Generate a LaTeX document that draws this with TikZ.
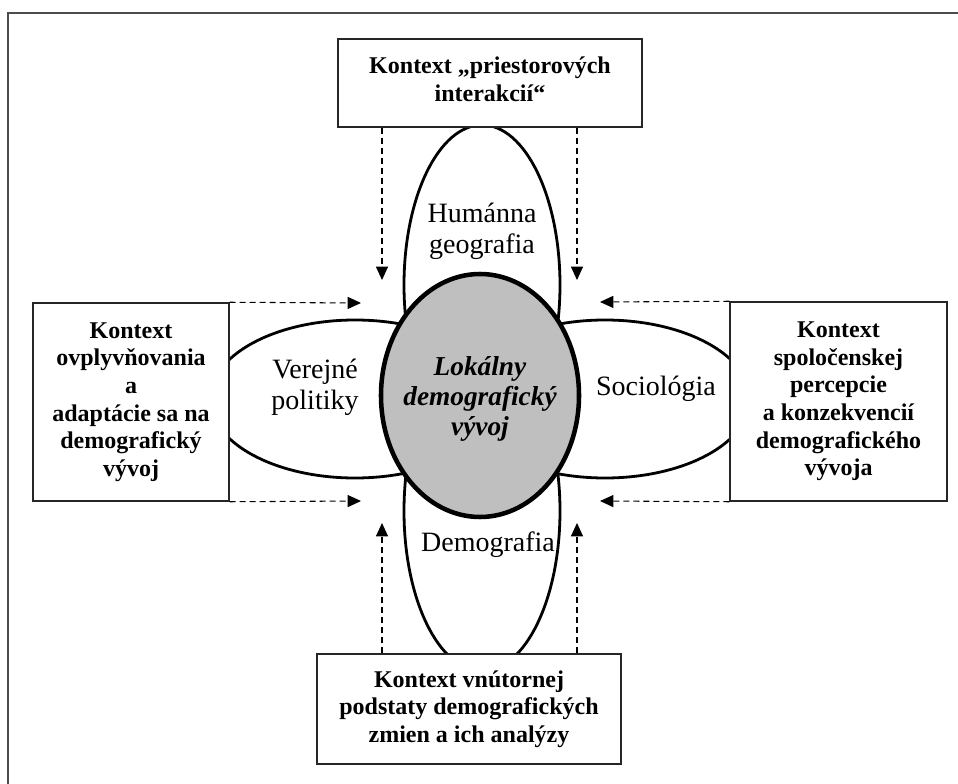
\documentclass[tikz,border=0pt]{standalone}
\usepackage{fontspec}
\setmainfont{Liberation Serif}
\usetikzlibrary{arrows.meta,shapes.geometric}
\begin{document}
\begin{tikzpicture}[x=0.75pt,y=-0.75pt,
  frameline/.style={draw=black!70,line width=1.7pt},
  petal/.style={draw=black,fill=white,line width=2.1pt},
  core/.style={draw=black,fill=black!25,line width=3.4pt},
  ctxbox/.style={draw=black!85,fill=white,line width=1.1pt,rectangle,inner sep=2pt,
    align=center,font=\fontsize{18}{20.7}\selectfont\bfseries},
  petaltext/.style={align=center,inner sep=0pt,font=\fontsize{21}{23.5}\selectfont},
  coretext/.style={align=center,inner sep=0pt,font=\fontsize{20.5}{22.5}\selectfont\bfseries\itshape},
  flow/.style={draw=black,line width=0.8pt,dash pattern=on 4.5pt off 3pt,
    -{Triangle[length=10pt,width=9pt]}}
]
\useasboundingbox (0,0) rectangle (958,784);
% outer frame (cropped)
\draw[frameline] (8,784) -- (8,13) -- (958,13);

% petals
\draw[petal] (482,511) ellipse [x radius=58.5pt, y radius=120pt];
\draw[petal] (355,399) ellipse [x radius=108.75pt, y radius=59.25pt];
\draw[petal] (605,399) ellipse [x radius=108.75pt, y radius=59.25pt];
\draw[petal] (482,285) ellipse [x radius=58.5pt, y radius=120pt];

% core
\node[core,ellipse,minimum width=148.5pt,minimum height=182.25pt,inner sep=0pt] (core) at (480,395.5) {};
\node[coretext] (coretxt) at (480,399) {Lokálny\\demografický\\vývoj};

% context boxes
\node[ctxbox,minimum width=228pt,minimum height=66pt] (topbox) at (490,83)
  {Kontext „priestorových\\interakcií“\rule[-6pt]{0pt}{1pt}};
\node[ctxbox,minimum width=147pt,minimum height=148.5pt] (leftbox) at (131,402)
  {Kontext\\ovplyvňovania\\a\\adaptácie sa na\\demografický\\vývoj};
\node[ctxbox,minimum width=162.75pt,minimum height=149.25pt] (rightbox) at (838.5,401.5)
  {Kontext\\spoločenskej\\percepcie\\a konzekvencií\\demografického\\vývoja};
\node[ctxbox,minimum width=228pt,minimum height=82.5pt] (botbox) at (469,709)
  {Kontext vnútornej\\podstaty demografických\\zmien a ich analýzy};

% petal labels
\node[petaltext] (hg) at (482,231) {Humánna\\geografia};
\node[petaltext] (vp) at (315,387) {Verejné\\politiky};
\node[petaltext] (so) at (656,389) {Sociológia};
\node[petaltext] (de) at (488,545) {Demografia};

% arrow ends
\coordinate (tA) at (382,280);
\coordinate (tB) at (577,280);
\coordinate (lA) at (361,303);
\coordinate (lB) at (361,501);
\coordinate (rA) at (600,302);
\coordinate (rB) at (600,501);
\coordinate (bA) at (382,523);
\coordinate (bB) at (577,523);

\draw[flow] (tA |- topbox.south) -- (tA);
\draw[flow] (tB |- topbox.south) -- (tB);
\draw[flow] (leftbox.north east) -- (lA);
\draw[flow] (leftbox.south east) -- (lB);
\draw[flow] (rightbox.north west) -- (rA);
\draw[flow] (rightbox.south west) -- (rB);
\draw[flow] (bA |- botbox.north) -- (bA);
\draw[flow] (bB |- botbox.north) -- (bB);
\end{tikzpicture}
\end{document}
